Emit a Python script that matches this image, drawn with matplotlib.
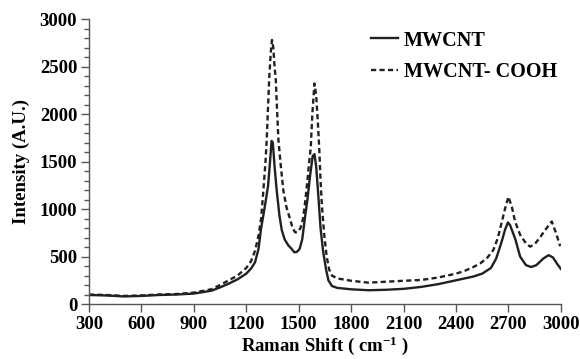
import matplotlib.pyplot as plt
import numpy as np

# Raman shift (cm-1) and intensity
shift_mw = [300, 400, 500, 600, 700, 800, 900, 1000, 1050, 1100, 1150, 1200, 1230, 1250,
            1270, 1285, 1300, 1315, 1325, 1335, 1345, 1352, 1362, 1374, 1390, 1403, 1420,
            1440, 1460, 1475, 1490, 1505, 1520, 1535, 1550, 1565, 1580, 1590, 1600, 1612,
            1625, 1640, 1657, 1670, 1690, 1720, 1800, 1900, 2000, 2100, 2200, 2300, 2400,
            2500, 2550, 2600, 2630, 2660, 2680, 2697, 2710, 2740, 2767, 2800, 2830, 2860,
            2900, 2930, 2955, 2980, 3000]
int_mw = [95, 90, 80, 85, 95, 100, 110, 140, 175, 215, 260, 320, 380, 440,
          580, 800, 960, 1130, 1250, 1480, 1720, 1700, 1450, 1200, 930, 780, 680,
          620, 580, 545, 550, 580, 680, 900, 1100, 1350, 1560, 1580, 1450, 1150,
          800, 550, 360, 250, 190, 170, 155, 145, 150, 160, 180, 210, 250,
          290, 320, 380, 480, 650, 780, 860, 830, 680, 500, 410, 390, 410,
          480, 515, 490, 420, 370]

shift_cooh = [300, 400, 500, 600, 700, 800, 900, 1000, 1050, 1100, 1150, 1200, 1227, 1250,
              1270, 1285, 1298, 1310, 1317, 1325, 1332, 1340, 1347, 1355, 1362, 1369, 1376,
              1384, 1398, 1412, 1430, 1450, 1465, 1480, 1495, 1510, 1525, 1536, 1550, 1560,
              1569, 1578, 1590, 1600, 1610, 1618, 1625, 1632, 1645, 1660, 1675, 1690, 1720,
              1800, 1900, 2000, 2100, 2200, 2300, 2400, 2450, 2500, 2540, 2580, 2614, 2640,
              2660, 2680, 2700, 2720, 2738, 2767, 2800, 2824, 2850, 2880, 2910, 2948, 2970,
              2996]
int_cooh = [100, 95, 85, 90, 100, 105, 120, 155, 200, 250, 300, 380, 450, 560,
            720, 900, 1200, 1500, 1730, 2100, 2400, 2650, 2784, 2700, 2500, 2362, 2050,
            1730, 1450, 1200, 1020, 900, 800, 755, 760, 800, 900, 1062, 1300, 1500,
            1650, 2000, 2325, 2200, 1900, 1620, 1300, 1060, 750, 500, 360, 300, 270,
            245, 225, 235, 245, 253, 280, 320, 350, 390, 430, 490, 570, 700,
            850, 1000, 1130, 1020, 870, 730, 640, 605, 630, 700, 780, 870, 760,
            610]

x_ticks = np.arange(300, 3001, 300)
y_ticks = np.arange(0, 3001, 500)

plt.rcParams['font.family'] = ['Liberation Serif', 'DejaVu Serif']
plt.rcParams['font.weight'] = 'bold'
plt.rcParams['mathtext.fontset'] = 'custom'
plt.rcParams['mathtext.rm'] = 'Liberation Serif:bold'
plt.rcParams['mathtext.bf'] = 'Liberation Serif:bold'
plt.rcParams['mathtext.default'] = 'bf'

fig = plt.figure(figsize=(5.8, 3.59), dpi=100)
ax = fig.add_axes([0.1534, 0.1532, 0.8136, 0.7925])

ax.plot(shift_mw, int_mw, '-', color='#231f20', linewidth=1.7, label='MWCNT')
ax.plot(shift_cooh, int_cooh, color='#231f20', linewidth=1.7, linestyle=(0, (2.2, 1.4)),
        label='MWCNT- COOH')

ax.set_xlim(300, 3000)
ax.set_ylim(0, 3000)
ax.set_xticks(x_ticks)
ax.set_yticks(y_ticks)
ax.set_yticks(np.arange(0, 3001, 100), minor=True)
ax.tick_params(axis='both', which='major', labelsize=13.5, direction='out', length=6, width=1,
               color='#555555', pad=2.5)
ax.tick_params(axis='y', which='minor', direction='out', length=3.5, width=1, color='#555555')
for lab in ax.get_xticklabels() + ax.get_yticklabels():
    lab.set_fontweight('bold')

for side in ['top', 'right']:
    ax.spines[side].set_visible(False)
for side in ['left', 'bottom']:
    ax.spines[side].set_color('#555555')
    ax.spines[side].set_linewidth(1)

ax.set_xlabel('Raman Shift ( cm$^{\\mathregular{-1}}$ )', fontsize=13.5, fontweight='bold',
              labelpad=1)
ax.set_ylabel('Intensity (A.U.)', fontsize=13.5, fontweight='bold', labelpad=7)

leg = ax.legend(loc='upper left', bbox_to_anchor=(0.56, 1.025), frameon=False,
                prop={'weight': 'bold', 'size': 14.5}, handlelength=1.3, handletextpad=0.3,
                labelspacing=0.55)

fig.savefig('out.png', dpi=100)
